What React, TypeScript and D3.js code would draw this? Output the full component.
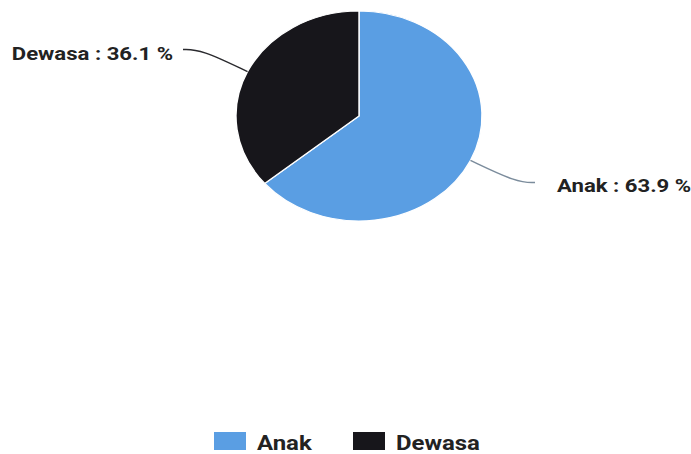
import React from "react";
import * as d3 from "d3";

const categories = ["Anak", "Dewasa"];
const values = [63.9, 36.1];
const colors = ["#5a9ee3", "#17161b"];
const lineColors = ["#7b8c9c", "#2a2a2e"];

const W = 691;
const H = 454;
const cx = 359;
const cy = 116;
const rx = 123;
const ry = 105;

export default function App() {
  const data = categories.map((c, i) => ({ name: c, value: values[i], i }));
  const pie = d3.pie<any>().sort(null).value((d: any) => d.value);
  const arcs = pie(data);
  const arcGen = d3.arc<any>().innerRadius(0).outerRadius(ry);
  const sx = rx / ry;

  const lineGen = d3.line<[number, number]>().curve(d3.curveBasis);

  return (
    <svg width={W} height={H} style={{ position: "absolute", left: 0, top: 0, background: "#fff" }}
      fontFamily="Roboto, sans-serif">
      <g transform={`translate(${cx},${cy}) scale(${sx},1)`}>
        {arcs.map((a, k) => (
          <path key={k} d={arcGen(a) as string} fill={colors[k]} stroke="#ffffff" strokeWidth={1.2} />
        ))}
      </g>
      {arcs.map((a, k) => {
        const mid = (a.startAngle + a.endAngle) / 2;
        const s = Math.sin(mid);
        const c = -Math.cos(mid);
        const side = s >= 0 ? 1 : -1;
        const start: [number, number] = [cx + s * rx, cy + c * ry];
        const endY = cy + c * ry * 1.5;
        const end: [number, number] = [cx + side * 176, endY];
        const knee: [number, number] = [end[0] - side * 18, endY];
        const label = `${a.data.name} : ${a.data.value.toFixed(1)} %`;
        const tx = end[0] + (side > 0 ? 22 : -10);
        const ty = end[1] + (side > 0 ? 9 : 11);
        return (
          <g key={k}>
            <path d={lineGen([start, knee, end]) as string} fill="none" stroke={lineColors[k]} strokeWidth={1.5} />
            <g transform={`translate(${tx},${ty}) scale(1.21,1)`}>
              <text x={0} y={0} textAnchor={side > 0 ? "start" : "end"} fontSize={18.3} fontWeight={700} fill="#222">
                {label}
              </text>
            </g>
          </g>
        );
      })}
      {categories.map((c, i) => {
        const x0 = i === 0 ? 214 : 353;
        return (
          <g key={c}>
            <rect x={x0} y={432} width={32} height={18} fill={colors[i]} />
            <g transform={`translate(${x0 + 43},450) scale(1.14,1)`}>
              <text x={0} y={0} fontSize={21} fontWeight={700} fill="#222">{c}</text>
            </g>
          </g>
        );
      })}
    </svg>
  );
}
